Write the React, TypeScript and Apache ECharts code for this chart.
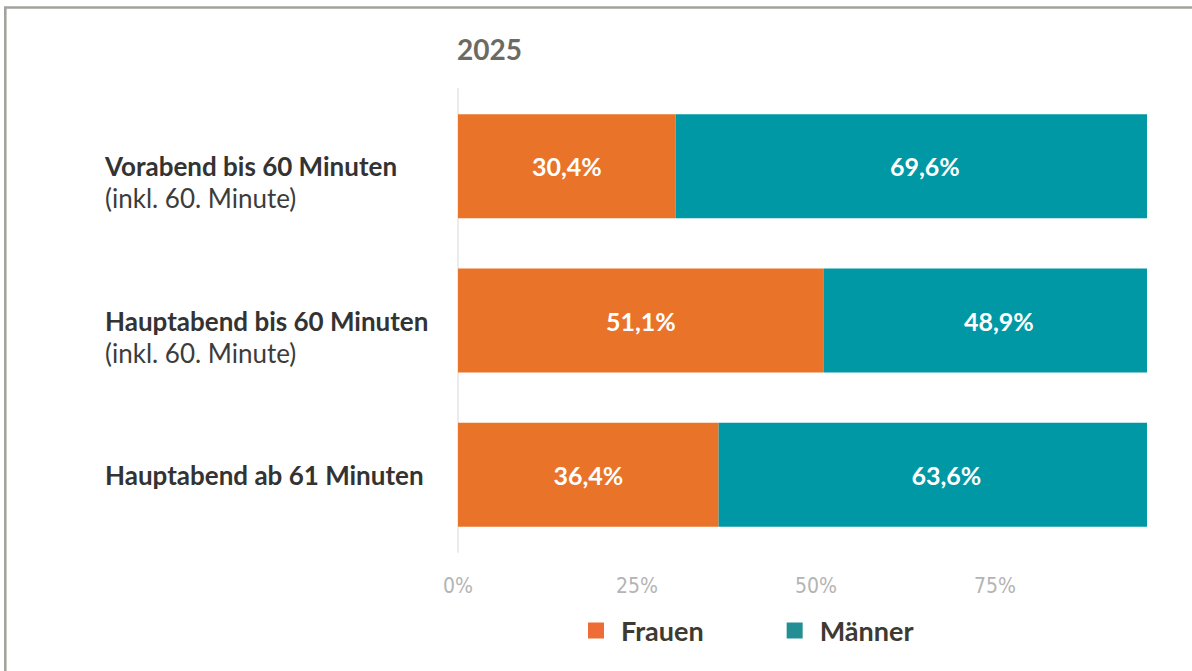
import React, { useEffect, useRef } from "react";
import * as echarts from "echarts";

const title = "2025";
const categories = ["Vorabend bis 60 Minuten", "Hauptabend bis 60 Minuten", "Hauptabend ab 61 Minuten"];
const subtitles = ["(inkl. 60. Minute)", "(inkl. 60. Minute)", ""];
const frauen = [30.4, 51.1, 36.4];
const maenner = [69.6, 48.9, 63.6];
const seriesNames = ["Frauen", "Männer"];

const ORANGE = "#E97329";
const TEAL = "#0098A5";

const fmt = (v: number) => v.toFixed(1).replace(".", ",") + "%";

export default function App() {
  const ref = useRef<HTMLDivElement>(null);
  useEffect(() => {
    if (!ref.current) return;
    const chart = echarts.init(ref.current, undefined, { renderer: "svg" });
    const labelStyle = {
      show: true,
      position: "inside" as const,
      color: "#FFFFFF",
      fontFamily: "Lato, 'Open Sans', sans-serif",
      fontWeight: "bold" as const,
      fontSize: 25,
      formatter: (p: any) => fmt(p.value),
    };
    chart.setOption({
      animation: false,
      backgroundColor: "#FFFFFF",
      title: {
        text: title,
        left: 452,
        top: 30,
        textStyle: {
          fontFamily: "Lato, 'Open Sans', sans-serif",
          fontWeight: "bold",
          fontSize: 28,
          color: "#6B6A63",
        },
      },
      legend: {
        left: 583,
        top: 612,
        icon: "rect",
        itemWidth: 16,
        itemHeight: 16,
        itemGap: 83,
        selectedMode: false,
        data: [
          { name: seriesNames[0], itemStyle: { color: "#EE6C35" } },
          { name: seriesNames[1], itemStyle: { color: "#238F94" } },
        ],
        textStyle: {
          fontFamily: "Lato, 'Open Sans', sans-serif",
          fontWeight: "bold",
          fontSize: 27,
          color: "#3D3A32",
          padding: [0, 0, 0, 12],
        },
      },
      grid: { left: 458, right: 18, top: 89, height: 463, containLabel: false },
      xAxis: {
        type: "value",
        min: 0,
        max: 100,
        interval: 25,
        splitLine: { show: false },
        axisLine: { show: false },
        axisTick: { show: false },
        axisLabel: {
          showMaxLabel: false,
          margin: 23,
          color: "#B4B4B4",
          fontSize: 21,
          fontFamily: "'Liberation Sans Narrow', 'DejaVu Sans Condensed', Roboto, sans-serif",
          formatter: (v: number) => v + "%",
        },
      },
      yAxis: {
        type: "category",
        inverse: true,
        data: categories,
        axisTick: { show: false },
        axisLine: { show: true, lineStyle: { color: "#EBEBEB", width: 2 } },
        axisLabel: {
          align: "left",
          margin: 353,
          formatter: (v: string, i: number) => {
            const sub = subtitles[i];
            return sub ? `{e| }\n{b|${v}}\n{n|${sub}}` : `{b|${v}}`;
          },
          rich: {
            e: { fontSize: 22, lineHeight: 32 },
            b: {
              fontFamily: "Lato, 'Open Sans', sans-serif",
              fontWeight: "bold",
              fontSize: 26,
              lineHeight: 32,
              color: "#333333",
            },
            n: {
              fontFamily: "Lato, 'Open Sans', sans-serif",
              fontSize: 26,
              lineHeight: 32,
              color: "#3C3C3C",
            },
          },
        },
      },
      graphic: [
        {
          type: "rect",
          z: 100,
          shape: { x: 1147, y: 95, width: 45, height: 460 },
          style: { fill: "#FFFFFF" },
        },
        {
          type: "polyline",
          z: 101,
          shape: { points: [[5.3, 671], [5.3, 7.5], [1192, 7.5]] },
          style: { stroke: "#A3A39D", lineWidth: 2.6, fill: "none" },
        },
      ],
      series: [
        {
          name: seriesNames[0],
          type: "bar",
          stack: "total",
          barWidth: 104,
          clip: false,
          itemStyle: { color: ORANGE },
          label: labelStyle,
          data: frauen,
        },
        {
          name: seriesNames[1],
          type: "bar",
          stack: "total",
          barWidth: 104,
          clip: false,
          itemStyle: { color: TEAL },
          label: labelStyle,
          data: maenner,
        },
      ],
    });
    return () => chart.dispose();
  }, []);
  return (
    <div
      ref={ref}
      style={{ position: "absolute", left: 0, top: 0, width: 1192, height: 671 }}
    />
  );
}
